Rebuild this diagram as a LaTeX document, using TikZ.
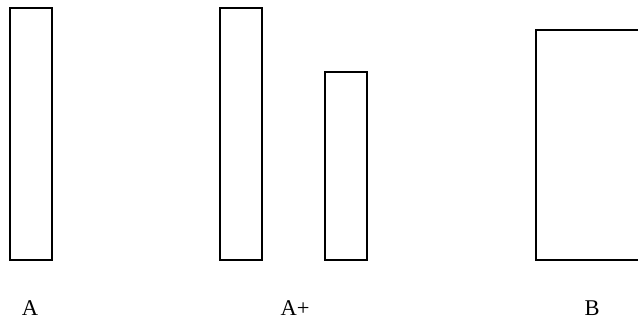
\documentclass[tikz,border=0pt]{standalone}
\usepackage{fontspec}
\setmainfont{Liberation Serif}
\begin{document}
\begin{tikzpicture}[
    bar/.style={draw, line width=0.35mm},
    tag/.style={font=\fontsize{16}{19}\selectfont}
]
    \useasboundingbox (0,0) rectangle (15.95,8.075);
    \clip (0,0) rectangle (15.95,8.075);

    % Bars
    \draw[bar] (0.25,1.575) rectangle (1.3,7.875);
    \draw[bar] (5.5,1.575) rectangle (6.55,7.875);
    \draw[bar] (8.125,1.575) rectangle (9.175,6.275);
    \draw[bar] (13.4,1.575) rectangle (16.5,7.325);

    % Labels
    \node[tag] (lab_a) at (0.75,0.375) {A};
    \node[tag] (lab_ap) at (7.375,0.375) {A+};
    \node[tag] (lab_b) at (14.8,0.375) {B};
\end{tikzpicture}
\end{document}
